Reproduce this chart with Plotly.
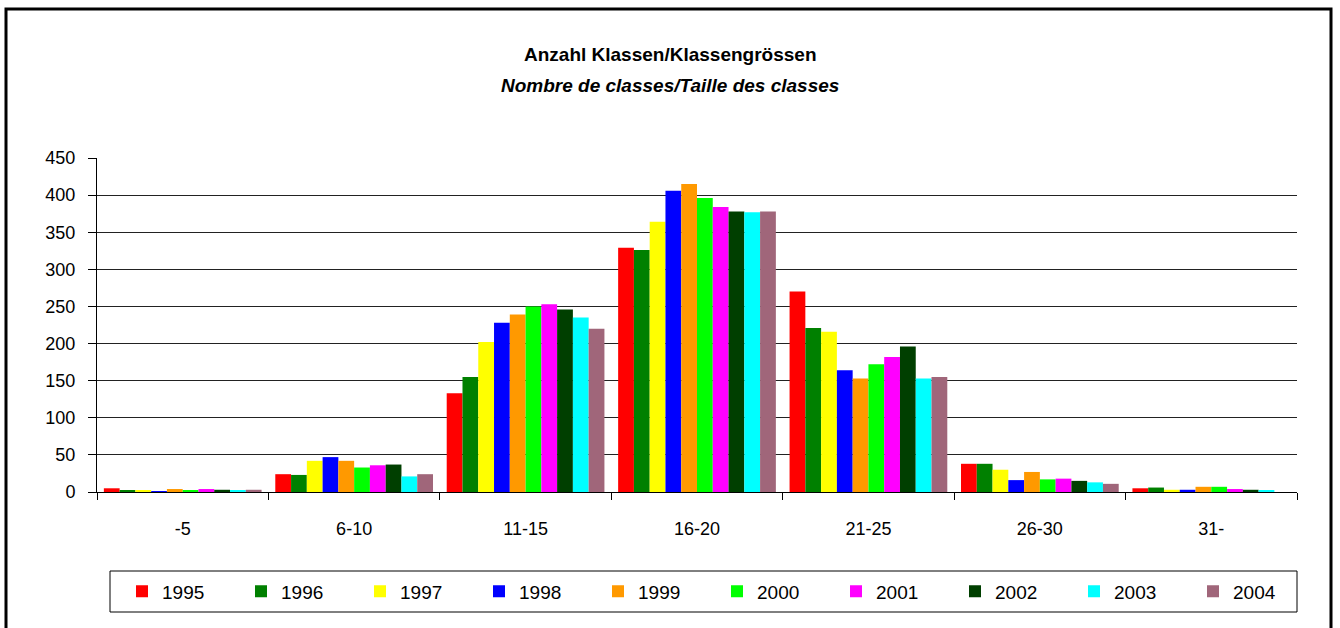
import plotly.graph_objects as go

categories = ["-5", "6-10", "11-15", "16-20", "21-25", "26-30", "31-"]
years = ["1995", "1996", "1997", "1998", "1999", "2000", "2001", "2002", "2003", "2004"]
colors = ["#FF0000", "#008000", "#FFFF00", "#0000FF", "#FF9900",
          "#00FF00", "#FF00FF", "#003F00", "#00FFFF", "#A0667A"]

v1995 = [5, 24, 133, 329, 270, 38, 5]
v1996 = [2, 23, 155, 326, 221, 38, 6]
v1997 = [2, 42, 202, 364, 216, 30, 3]
v1998 = [1, 47, 228, 406, 164, 16, 3]
v1999 = [4, 42, 239, 415, 153, 27, 7]
v2000 = [2, 33, 250, 396, 172, 17, 7]
v2001 = [4, 36, 253, 384, 182, 18, 4]
v2002 = [3, 37, 246, 378, 196, 15, 3]
v2003 = [2, 21, 235, 377, 153, 13, 2]
v2004 = [3, 24, 220, 378, 155, 11, 0]
series = [v1995, v1996, v1997, v1998, v1999, v2000, v2001, v2002, v2003, v2004]

title_line1 = "Anzahl Klassen/Klassengrössen"
title_line2 = "Nombre de classes/Taille des classes"

FONT = "Liberation Sans Narrow, Arial Narrow, Liberation Sans, Arial, sans-serif"

fig = go.Figure()
for y, vals, c in zip(years, series, colors):
    fig.add_trace(go.Bar(name=y, x=categories, y=vals, marker=dict(color=c, line=dict(width=0))))

L, R, T, B = 97, 43, 158, 136
W, H = 1340, 628
pw, ph = W - L - R, H - T - B

def px(x):
    return (x - L) / pw

def py(y):
    return (H - B - y) / ph

fig.update_layout(
    width=W, height=H,
    margin=dict(l=L, r=R, t=T, b=B, autoexpand=False),
    paper_bgcolor="white", plot_bgcolor="white",
    barmode="group", bargap=0.08, bargroupgap=0,
    font=dict(family=FONT, size=18, color="black"),
    xaxis=dict(
        showline=True, linecolor="black", linewidth=1,
        ticks="outside", tickson="boundaries", ticklen=7, tickcolor="black",
        showgrid=False, tickfont=dict(size=18), ticklabelstandoff=20,
    ),
    yaxis=dict(
        range=[0, 450], dtick=50, showline=True, linecolor="black", linewidth=1,
        ticks="outside", ticklen=8, tickcolor="black",
        showgrid=True, gridcolor="#222222", gridwidth=1, zeroline=False,
        tickfont=dict(size=18), ticklabelstandoff=9,
    ),
    legend=dict(
        orientation="h", x=px(122), xanchor="left", y=py(591.5), yanchor="middle",
        borderwidth=0, bgcolor="rgba(0,0,0,0)",
        entrywidth=74, entrywidthmode="pixels",
        font=dict(size=19), itemwidth=30, tracegroupgap=0,
    ),
    showlegend=True,
    annotations=[
        dict(text="<b>" + title_line1 + "</b>", xref="paper", yref="paper",
             x=px(670), y=py(55), xanchor="center", yanchor="middle", showarrow=False,
             font=dict(size=19, color="black", family=FONT)),
        dict(text="<b><i>" + title_line2 + "</i></b>", xref="paper", yref="paper",
             x=px(670), y=py(85), xanchor="center", yanchor="middle", showarrow=False,
             font=dict(size=19, color="black", family=FONT)),
    ],
)

# legend box
fig.add_shape(type="rect", xref="paper", yref="paper",
              x0=px(110), x1=px(1297), y0=py(612), y1=py(571),
              line=dict(color="black", width=1), fillcolor="rgba(0,0,0,0)", layer="below")
# outer frame
fig.add_shape(type="rect", xref="paper", yref="paper",
              x0=px(6), x1=px(1331), y0=py(660), y1=py(9),
              line=dict(color="black", width=3), fillcolor="rgba(0,0,0,0)", layer="above")

fig.write_html("out.html", config={"displayModeBar": False},
               post_script="document.body.style.margin='0';document.body.style.overflow='hidden';")
